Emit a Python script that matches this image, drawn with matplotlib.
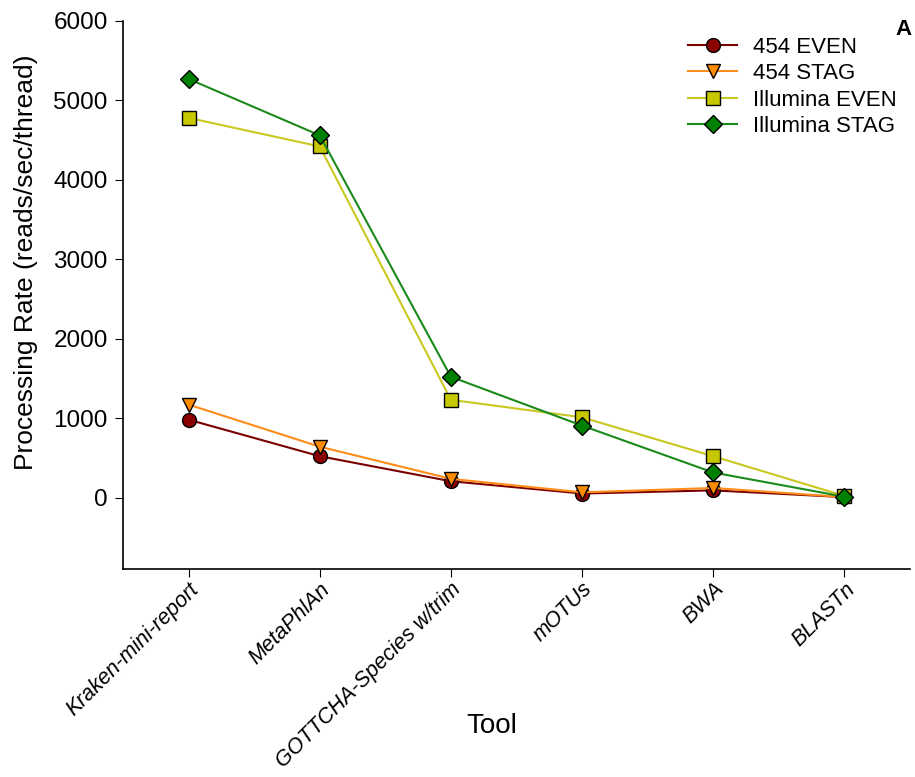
import numpy as np
import matplotlib.pyplot as plt

plt.rcParams['font.family'] = ['Liberation Sans', 'DejaVu Sans']

tools = ['Kraken-mini-report', 'MetaPhlAn', 'GOTTCHA-Species w/trim',
         'mOTUs', 'BWA', 'BLASTn']

# reads/sec/thread
even_454 = [980, 520, 205, 50, 90, 5]
stag_454 = [1170, 640, 235, 65, 120, 5]
even_ill = [4780, 4420, 1230, 1010, 520, 20]
stag_ill = [5270, 4560, 1520, 905, 315, 10]

series = [
    ('454 EVEN', even_454, 'o', '#8b0000', '#7a0000'),
    ('454 STAG', stag_454, 'v', '#ff8c00', '#ff8c1a'),
    ('Illumina EVEN', even_ill, 's', '#c8c800', '#c8c820'),
    ('Illumina STAG', stag_ill, 'D', '#008000', '#1a8a1a'),
]

fig = plt.figure(figsize=(9.15, 7.77), dpi=100)
ax = fig.add_axes([0.1344, 0.2677, 0.8601, 0.7053])

x = np.arange(len(tools))
for name, vals, mk, fc, lc in series:
    ms = 9 if mk == 'D' else 10
    ax.plot(x, vals, color=lc, lw=1.5, marker=mk, markersize=ms,
            markerfacecolor=fc, markeredgecolor='black', markeredgewidth=1.0,
            label=name)

ax.set_xlim(-0.5, 5.5)
ax.set_ylim(-900, 6000)
ax.set_yticks([0, 1000, 2000, 3000, 4000, 5000, 6000])
ax.set_xticks(x)
ax.set_xticklabels(tools, rotation=45, ha='right', rotation_mode='anchor',
                   style='italic', fontsize=15.5)
ax.tick_params(axis='y', labelsize=17.5, length=6, direction='out', pad=5)
ax.tick_params(axis='x', length=6, direction='out', pad=1)
for s in ['top', 'right']:
    ax.spines[s].set_visible(False)
for s in ['left', 'bottom']:
    ax.spines[s].set_linewidth(1.2)

ax.set_ylabel('Processing Rate (reads/sec/thread)', fontsize=19)
ax.yaxis.set_label_coords(-0.108, 0.56)
ax.set_xlabel('Tool', fontsize=20)
ax.xaxis.set_label_coords(0.469, -0.262)

ax.legend(loc='upper left', bbox_to_anchor=(0.752, 0.953),
          bbox_transform=fig.transFigure, frameon=False, borderpad=0,
          borderaxespad=0, fontsize=16, handlelength=2.2,
          handletextpad=0.7, labelspacing=0.25)
fig.text(0.987, 0.955, 'A', fontsize=16, fontweight='bold', ha='center')

fig.savefig('out.png', dpi=100)
